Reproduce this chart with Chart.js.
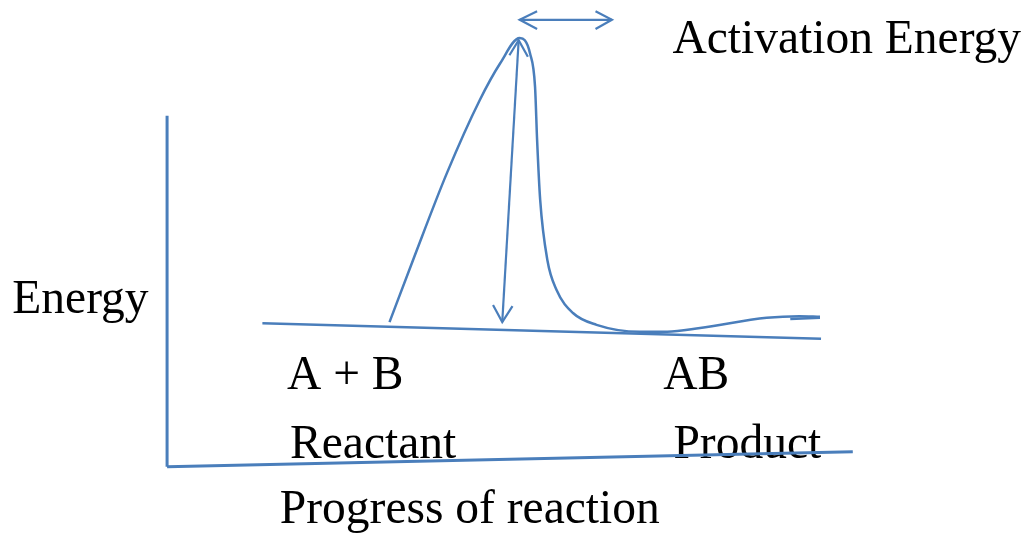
<!DOCTYPE html>
<html>
<head>
<meta charset="utf-8">
<script src="https://cdn.jsdelivr.net/npm/chart.js@4"></script>
<style>
  html, body { margin: 0; padding: 0; background: #fff; }
  #wrap { width: 1025px; height: 536px; }
</style>
</head>
<body>
<div id="wrap"><canvas id="energyChart"></canvas></div>
<script>
// progress (x) and energy (y), both 0-100 across the drawing
const energyCurve = [
  [38.0, 39.9], [40.3, 51.5], [43.6, 67.7], [46.8, 81.3], [48.8, 88.2],
  [50.7, 92.9], [51.2, 92.5], [51.7, 90.1], [52.2, 83.8],
  [52.4, 73.9], [52.7, 62.7], [53.4, 51.5], [54.3, 45.9], [55.9, 41.6],
  [58.2, 39.4], [62.4, 38.1], [65.1, 38.1], [68.3, 38.8], [74.8, 40.7],
  [78.0, 41.0], [80.0, 40.9]
];
const curveTail = [[80.0, 40.7], [77.1, 40.5]];
const baseLine = [[25.6, 39.7], [80.1, 36.8]];
const energyAxis = [[16.3, 78.4], [16.3, 12.9]];
const progressAxis = [[16.3, 12.9], [83.2, 15.7]];

// activation energy arrows
const barrierArrow = [[50.6, 92.5], [49.0, 39.9]];
const barrierHeadTop = [[49.7, 89.7], [50.6, 92.5], [51.5, 89.4]];
const barrierHeadBottom = [[48.1, 43.1], [49.0, 39.9], [50.0, 42.9]];
const sideArrow = [[50.7, 96.3], [59.7, 96.3]];
const sideHeadLeft = [[52.4, 97.9], [50.7, 96.3], [52.4, 94.6]];
const sideHeadRight = [[58.1, 97.9], [59.7, 96.3], [58.1, 94.6]];

const labelTexts = ['Energy', 'A + B', 'AB', 'Reactant', 'Product', 'Activation Energy', 'Progress of reaction'];
const labelAt = [[1.2, 41.6], [28.0, 27.4], [64.7, 27.4], [28.3, 14.6], [65.7, 14.6], [65.6, 90.1], [27.3, 2.4]];

const blue = '#4a7ebb';
const toXY = arr => arr.map(p => ({ x: p[0], y: p[1] }));

function line(data, width, smooth) {
  return {
    data: toXY(data),
    showLine: true,
    borderColor: blue,
    borderWidth: width,
    pointRadius: 0,
    cubicInterpolationMode: smooth ? 'monotone' : 'default',
    tension: smooth ? 0.4 : 0,
    fill: false
  };
}

const textLabels = {
  id: 'textLabels',
  beforeDatasetsDraw(chart) {
    const c = chart.ctx;
    const xs = chart.scales.x, ys = chart.scales.y;
    c.save();
    c.fillStyle = '#000';
    c.font = '47.5px "Liberation Serif", "Times New Roman", serif';
    c.textBaseline = 'alphabetic';
    c.textAlign = 'left';
    labelTexts.forEach((t, i) => {
      c.fillText(t, xs.getPixelForValue(labelAt[i][0]), ys.getPixelForValue(labelAt[i][1]));
    });
    c.restore();
  }
};

new Chart(document.getElementById('energyChart'), {
  type: 'scatter',
  data: {
    datasets: [
      line(energyAxis, 3, false),
      line(progressAxis, 3, false),
      line(baseLine, 2.5, false),
      line(energyCurve, 2.5, true),
      line(curveTail, 2.5, false),
      line(barrierArrow, 2.2, false),
      line(barrierHeadTop, 2.2, false),
      line(barrierHeadBottom, 2.2, false),
      line(sideArrow, 2.2, false),
      line(sideHeadLeft, 2.2, false),
      line(sideHeadRight, 2.2, false)
    ]
  },
  options: {
    responsive: true,
    maintainAspectRatio: false,
    animation: false,
    layout: { padding: 0 },
    plugins: {
      legend: { display: false },
      tooltip: { enabled: false }
    },
    scales: {
      x: { type: 'linear', min: 0, max: 100, display: false },
      y: { type: 'linear', min: 0, max: 100, display: false }
    }
  },
  plugins: [textLabels]
});
</script>
</body>
</html>
